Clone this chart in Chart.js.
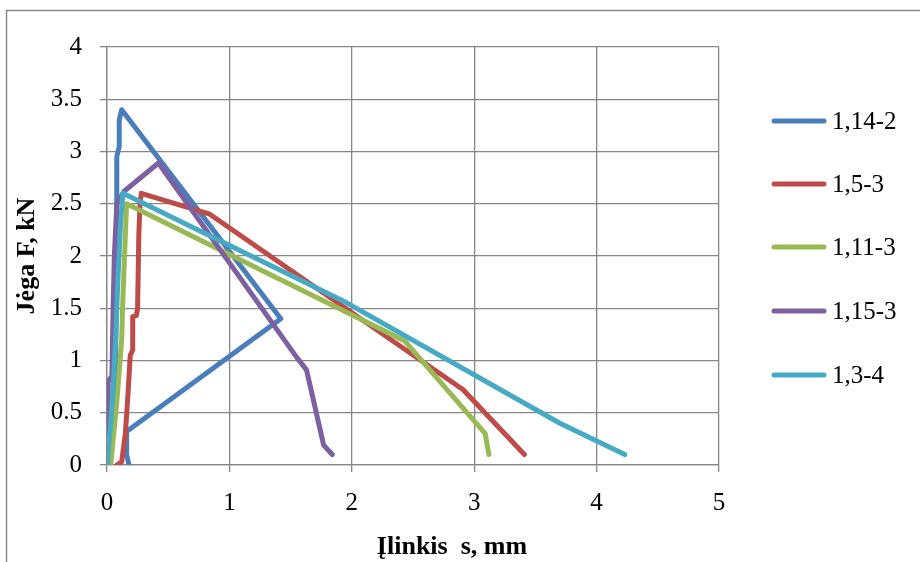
<!DOCTYPE html>
<html>
<head>
<meta charset="utf-8">
<script src="https://cdn.jsdelivr.net/npm/chart.js@4/dist/chart.umd.min.js"></script>
<style>
  html, body { margin: 0; padding: 0; background: #fff; }
  #wrap { width: 920px; height: 562px; }
</style>
</head>
<body>
<div id="wrap"><canvas id="forceChart" width="920" height="562"></canvas></div>
<script>
// Serijų pavadinimai ir spalvos
const seriesNames = ['1,14-2', '1,5-3', '1,11-3', '1,15-3', '1,3-4'];
const seriesColors = ['#4A7EBB', '#BE4B48', '#98B954', '#7D60A0', '#46AAC5'];

// Įlinkis s, mm ir jėga F, kN kiekvienai serijai
const s1x = [0.02, 0.05, 0.07, 0.08, 0.08, 0.10, 0.10, 0.12, 1.42, 0.16, 0.16, 0.18];
const s1y = [0, 0.5, 1.0, 2.0, 2.95, 3.05, 3.30, 3.40, 1.40, 0.32, 0.10, 0];

const s2x = [0.08, 0.12, 0.15, 0.17, 0.19, 0.21, 0.21, 0.24, 0.25, 0.26, 0.27, 0.28, 0.84, 2.91, 3.41];
const s2y = [0, 0.03, 0.30, 0.65, 1.05, 1.10, 1.42, 1.43, 1.50, 2.20, 2.50, 2.60, 2.40, 0.72, 0.10];

const s3x = [0.03, 0.08, 0.12, 0.13, 0.15, 0.16, 2.43, 3.09, 3.12];
const s3y = [0, 0.60, 1.20, 1.60, 2.20, 2.50, 1.19, 0.30, 0.10];

const s4x = [0.00, 0.01, 0.01, 0.04, 0.05, 0.06, 0.08, 0.14, 0.42, 1.55, 1.63, 1.77, 1.84];
const s4y = [0, 0.40, 0.80, 0.85, 1.50, 2.00, 2.50, 2.62, 2.89, 1.03, 0.91, 0.19, 0.10];

const s5x = [0.00, 0.03, 0.05, 0.07, 0.09, 0.11, 0.13, 1.93, 3.70, 4.23];
const s5y = [0, 0.40, 0.72, 1.20, 1.80, 2.30, 2.60, 1.57, 0.40, 0.10];

const xTicks = [0, 1, 2, 3, 4, 5];
const yTicks = [0, 0.5, 1, 1.5, 2, 2.5, 3, 3.5, 4];

const allX = [s1x, s2x, s3x, s4x, s5x];
const allY = [s1y, s2y, s3y, s4y, s5y];

const gridColor = '#868686';
const serif = "'Liberation Serif', 'Times New Roman', serif";

// rėmelis, legenda ir x ašies pavadinimas
const decorPlugin = {
    id: 'decor',
    beforeDraw(chart) {
        const c = chart.ctx;
        c.save();
        c.fillStyle = '#fff';
        c.fillRect(0, 0, chart.width, chart.height);
        c.strokeStyle = '#8a8a8a';
        c.lineWidth = 1.5;
        c.beginPath();
        c.moveTo(6.5, chart.height + 2);
        c.lineTo(6.5, 10.5);
        c.lineTo(chart.width + 2, 10.5);
        c.stroke();
        c.restore();
    },
    afterDraw(chart) {
        const c = chart.ctx;
        c.save();
        // legenda
        const legendY = [121, 184, 247, 311, 375];
        seriesNames.forEach((name, i) => {
            c.strokeStyle = seriesColors[i];
            c.lineWidth = 5;
            c.lineCap = 'round';
            c.beginPath();
            c.moveTo(774, legendY[i]);
            c.lineTo(824, legendY[i]);
            c.stroke();
            c.fillStyle = '#000';
            c.font = '25px ' + serif;
            c.textAlign = 'left';
            c.textBaseline = 'middle';
            c.fillText(name, 832, legendY[i] + 1);
        });
        // x ašies pavadinimas
        c.font = 'bold 26px ' + serif;
        c.textAlign = 'center';
        c.textBaseline = 'middle';
        c.fillStyle = '#000';
        c.fillText('Įlinkis  s, mm', 452, 547);
        c.restore();
    }
};

const ctx = document.getElementById('forceChart');

new Chart(ctx, {
    type: 'scatter',
    data: {
        datasets: seriesNames.map((name, i) => ({
            label: name,
            data: allX[i].map((x, j) => ({ x: x, y: allY[i][j] })),
            showLine: true,
            borderColor: seriesColors[i],
            backgroundColor: seriesColors[i],
            borderWidth: 5,
            borderCapStyle: 'round',
            borderJoinStyle: 'round',
            pointRadius: 0,
            pointHoverRadius: 0,
            tension: 0,
            order: seriesNames.length - i
        }))
    },
    options: {
        responsive: false,
        animation: false,
        layout: {
            padding: { left: 0, top: 47, right: 201, bottom: 0 }
        },
        plugins: {
            legend: { display: false },
            tooltip: { enabled: false }
        },
        scales: {
            x: {
                type: 'linear',
                min: 0,
                max: 5,
                afterBuildTicks: s => { s.ticks = xTicks.map(v => ({ value: v })); },
                afterFit: s => { s.height = 97; },
                grid: { color: gridColor, lineWidth: 1.3, tickLength: 7, tickColor: gridColor },
                border: { color: gridColor, width: 1.3 },
                ticks: {
                    color: '#000',
                    padding: 16,
                    maxRotation: 0,
                    font: { family: serif, size: 25 }
                },
                title: { display: false }
            },
            y: {
                type: 'linear',
                min: 0,
                max: 4,
                afterBuildTicks: s => { s.ticks = yTicks.map(v => ({ value: v })); },
                afterFit: s => { s.width = 107; },
                grid: { color: gridColor, lineWidth: 1.3, tickLength: 7, tickColor: gridColor },
                border: { color: gridColor, width: 1.3 },
                ticks: {
                    color: '#000',
                    padding: 18,
                    font: { family: serif, size: 25 },
                    callback: v => String(v)
                },
                title: {
                    display: true,
                    text: 'Jėga F, kN',
                    color: '#000',
                    padding: { top: 12, bottom: 0 },
                    font: { family: serif, size: 26, weight: 'bold', lineHeight: 1.2 }
                }
            }
        }
    },
    plugins: [decorPlugin]
});
</script>
</body>
</html>
